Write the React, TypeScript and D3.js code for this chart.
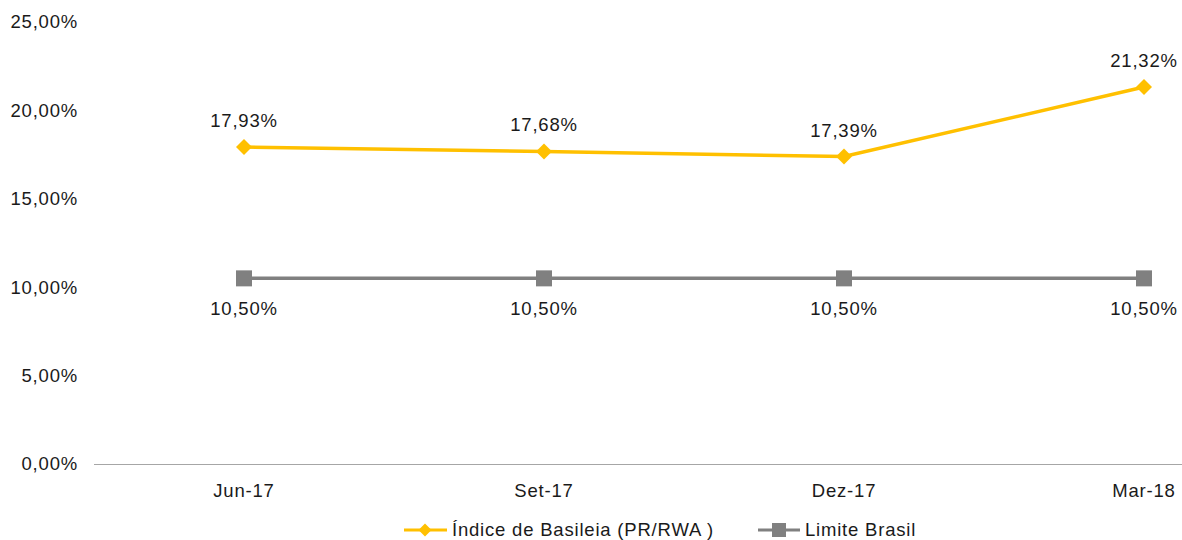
import React, { useRef, useEffect } from "react";
import * as d3 from "d3";

const categories = ["Jun-17", "Set-17", "Dez-17", "Mar-18"];
const basileia = [17.93, 17.68, 17.39, 21.32];
const limite = [10.5, 10.5, 10.5, 10.5];
const yTicks = [0, 5, 10, 15, 20, 25];
const seriesNames = ["Índice de Basileia (PR/RWA )", "Limite Brasil"];

const YELLOW = "#FFC000";
const GRAY = "#808080";

const fmt = (v: number) => v.toFixed(2).replace(".", ",") + "%";

const App = () => {
  const ref = useRef<SVGSVGElement>(null);

  useEffect(() => {
    const width = 1182;
    const height = 540;
    const svg = d3.select(ref.current);
    svg.selectAll("*").remove();
    svg
      .attr("width", width)
      .attr("height", height)
      .style("font-family", "Liberation Sans, Arial, sans-serif")
      .style("font-size", "18.5px")
      .style("letter-spacing", "0.8px");

    const x = d3.scaleBand().domain(categories).range([94, 1294]).padding(0);
    const cx = (c: string) => (x(c) as number) + x.bandwidth() / 2;
    const y = d3.scaleLinear().domain([0, 25]).range([464, 22]);

    // y axis labels
    svg
      .append("g")
      .selectAll("text")
      .data(yTicks)
      .enter()
      .append("text")
      .attr("x", 78)
      .attr("y", (d) => y(d))
      .attr("dy", "0.35em")
      .attr("text-anchor", "end")
      .attr("fill", "#1a1a1a")
      .text((d) => fmt(d));

    // x axis line
    svg
      .append("line")
      .attr("x1", 94)
      .attr("x2", width)
      .attr("y1", y(0) + 0.5)
      .attr("y2", y(0) + 0.5)
      .attr("stroke", "#a6a6a6")
      .attr("stroke-width", 1);

    svg
      .append("g")
      .selectAll("text")
      .data(categories)
      .enter()
      .append("text")
      .attr("x", (d) => cx(d))
      .attr("y", 497)
      .attr("text-anchor", "middle")
      .attr("fill", "#1a1a1a")
      .text((d) => d);

    const line = d3
      .line<number>()
      .x((_, i) => cx(categories[i]))
      .y((d) => y(d));

    // Limite Brasil
    svg
      .append("path")
      .attr("d", line(limite))
      .attr("fill", "none")
      .attr("stroke", GRAY)
      .attr("stroke-width", 3.5);
    svg
      .append("g")
      .selectAll("rect")
      .data(limite)
      .enter()
      .append("rect")
      .attr("x", (_, i) => cx(categories[i]) - 8)
      .attr("y", (d) => y(d) - 8)
      .attr("width", 16)
      .attr("height", 16)
      .attr("fill", GRAY);
    svg
      .append("g")
      .selectAll("text")
      .data(limite)
      .enter()
      .append("text")
      .attr("x", (_, i) => cx(categories[i]))
      .attr("y", (d) => y(d) + 37)
      .attr("text-anchor", "middle")
      .attr("fill", "#1a1a1a")
      .text((d) => fmt(d));

    // Basileia
    svg
      .append("path")
      .attr("d", line(basileia))
      .attr("fill", "none")
      .attr("stroke", YELLOW)
      .attr("stroke-width", 3.5);
    const diamond = (s: number) => `M0,${-s}L${s},0L0,${s}L${-s},0Z`;
    svg
      .append("g")
      .selectAll("path")
      .data(basileia)
      .enter()
      .append("path")
      .attr("transform", (d, i) => `translate(${cx(categories[i])},${y(d)})`)
      .attr("d", diamond(8))
      .attr("fill", YELLOW);
    svg
      .append("g")
      .selectAll("text")
      .data(basileia)
      .enter()
      .append("text")
      .attr("x", (_, i) => cx(categories[i]))
      .attr("y", (d) => y(d) - 20)
      .attr("text-anchor", "middle")
      .attr("fill", "#1a1a1a")
      .text((d) => fmt(d));

    // legend
    const legend = svg.append("g").attr("transform", "translate(0,530)");
    const l1 = legend.append("g").attr("transform", "translate(404,0)");
    l1.append("line").attr("x1", 0).attr("x2", 43).attr("stroke", YELLOW).attr("stroke-width", 3);
    l1.append("path").attr("transform", "translate(21,0)").attr("d", diamond(6.5)).attr("fill", YELLOW);
    l1.append("text")
      .attr("x", 48)
      .attr("dy", "0.35em")
      .attr("fill", "#1a1a1a")
      .text(seriesNames[0]);
    const l2 = legend.append("g").attr("transform", "translate(758,0)");
    l2.append("line").attr("x1", 0).attr("x2", 42).attr("stroke", GRAY).attr("stroke-width", 3);
    l2.append("rect").attr("x", 14).attr("y", -7).attr("width", 14).attr("height", 14).attr("fill", GRAY);
    l2.append("text")
      .attr("x", 47)
      .attr("dy", "0.35em")
      .attr("fill", "#1a1a1a")
      .text(seriesNames[1]);
  }, []);

  return (
    <svg
      ref={ref}
      style={{ position: "absolute", left: 0, top: 0, background: "#fff" }}
    ></svg>
  );
};

export default App;
